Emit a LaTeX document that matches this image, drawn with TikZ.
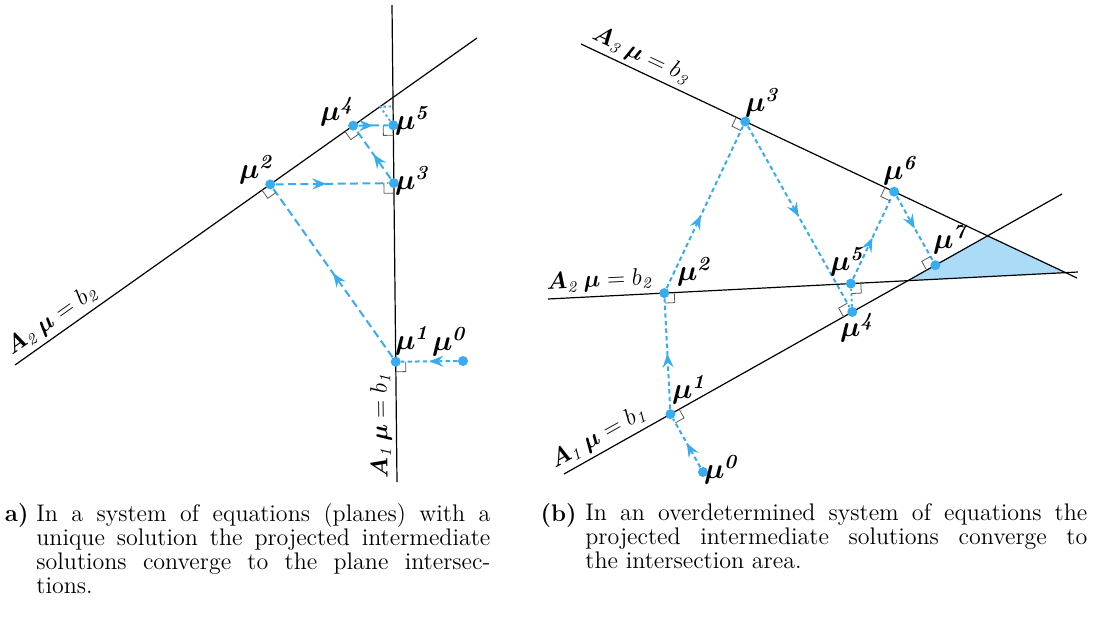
\documentclass[tikz,border=0pt]{standalone}
\usepackage{amsmath}
\usepackage{tikz}
\usetikzlibrary{arrows.meta, calc, decorations.markings, positioning}

\definecolor{iterblue}{RGB}{56,172,240}
\definecolor{areablue}{RGB}{172,219,248}

\tikzset{
  plane/.style={line width=0.6pt},
  dot/.style={circle, fill=iterblue, inner sep=0pt, minimum size=5pt},
  iter/.style={iterblue, line width=1pt, dash pattern=on 4pt off 2.2pt},
  iterfine/.style={iterblue, line width=1pt, dash pattern=on 2.2pt off 1.6pt},
  iterdots/.style={iterblue, line width=0.9pt, dash pattern=on 1.2pt off 1.4pt},
  midtip/.style={postaction={decorate}, decoration={markings,
      mark=at position #1 with {\arrow{Stealth[length=7pt,width=5.5pt,inset=2.5pt]}}}},
  midtip/.default=0.5,
  rmark/.style={gray!70!black, line width=0.4pt},
  mulab/.style={font=\Large\boldmath, inner sep=0pt},
  eqlab/.style={font=\large, inner sep=2pt},
  capbox/.style={font=\fontsize{12}{12}\selectfont, align=justify, inner sep=0pt, anchor=north west},
  captag/.style={font=\fontsize{12}{12}\selectfont\bfseries, inner sep=0pt, anchor=north east},
}

% right angle mark: foot, source, point on the plane
\newcommand{\ortho}[3]{%
  \path ($(#1)!5pt!(#2)$) coordinate (ra) ($(#1)!5pt!(#3)$) coordinate (rb);
  \draw[rmark] (ra) -- ($(ra)+(rb)-(#1)$) -- (rb);}

\begin{document}
\begin{tikzpicture}[x=0.5pt, y=-0.5pt]
\useasboundingbox (0,0) rectangle (1104,617);

% (a) two planes, unique solution
\begin{scope}
\coordinate (La) at (397,482);  % plane 1, lower end
\coordinate (Lb) at (392,5);
\coordinate (Lc) at (15,365);   % plane 2, lower end
\coordinate (Ld) at (477,38);
\draw[plane] (La) -- (Lb) node[eqlab, pos=0.12, sloped, allow upside down, above] (tA1) {$\boldsymbol{A}_{\mathit{1}}\,\boldsymbol{\mu} = b_{\mathit{1}}$};
\draw[plane] (Lc) -- (Ld) node[eqlab, pos=0.1, sloped, above] (tA2) {$\boldsymbol{A}_{\mathit{2}}\,\boldsymbol{\mu} = b_{\mathit{2}}$};

\node[dot] (m0) at (463,361) {};
\node[dot] (m1) at ($(La)!(m0)!(Lb)$) {};
\node[dot] (m2) at ($(Lc)!(m1)!(Ld)$) {};
\node[dot] (m3) at ($(La)!(m2)!(Lb)$) {};
\node[dot] (m4) at ($(Lc)!(m3)!(Ld)$) {};
\node[dot] (m5) at ($(La)!(m4)!(Lb)$) {};
\coordinate (m6) at ($(Lc)!(m5)!(Ld)$);
\coordinate (m7) at ($(La)!(m6)!(Lb)$);

\draw[iterfine, midtip] (m0) -- (m1);
\draw[iter, midtip] (m1) -- (m2);
\draw[iter, midtip=0.45] (m2) -- (m3);
\draw[iter, midtip] (m3) -- (m4);
\draw[iter, midtip] (m4) -- (m5);
\draw[iterdots] (m5) -- (m6) -- (m7);  % further steps

\ortho{m1}{m0}{La}
\ortho{m2}{m1}{Lc}
\ortho{m3}{m2}{La}
\ortho{m4}{m3}{Lc}
\ortho{m5}{m4}{La}

\node[mulab] (l0) at (450,342) {$\mu^{\mathit{0}}$};
\node[mulab] (l1) at (413,341) {$\mu^{\mathit{1}}$};
\node[mulab] (l2) at (257,170) {$\mu^{\mathit{2}}$};
\node[mulab] (l3) at (413,181) {$\mu^{\mathit{3}}$};
\node[mulab] (l4) at (338,112) {$\mu^{\mathit{4}}$};
\node[mulab] (l5) at (413,121) {$\mu^{\mathit{5}}$};

\node[captag] (tagA) at (29,503) {\strut a)};
\node[capbox, text width=227pt] (capA) at (36,503) {\strut In a system of equations (planes) with a\linebreak unique solution the projected intermediate\linebreak solutions converge to the plane intersec-\linebreak tions.};
\end{scope}

% (b) three planes, overdetermined
\begin{scope}
\coordinate (Ra) at (564,474);  % plane 1
\coordinate (Rb) at (1062,194);
\coordinate (Rc) at (548,299);  % plane 2
\coordinate (Rd) at (1078,272);
\coordinate (Re) at (581,44);   % plane 3
\coordinate (Rf) at (1077,278);
\fill[areablue] (intersection of Ra--Rb and Rc--Rd) -- (intersection of Ra--Rb and Re--Rf) -- (intersection of Rc--Rd and Re--Rf) -- cycle;
\draw[plane] (Ra) -- (Rb) node[eqlab, pos=0.085, sloped, above] (tB1) {$\boldsymbol{A}_{\mathit{1}}\,\boldsymbol{\mu} = b_{\mathit{1}}$};
\draw[plane] (Rc) -- (Rd) node[eqlab, pos=0.1, sloped, above] (tB2) {$\boldsymbol{A}_{\mathit{2}}\,\boldsymbol{\mu} = b_{\mathit{2}}$};
\draw[plane] (Re) -- (Rf) node[eqlab, pos=0.11, sloped, above] (tB3) {$\boldsymbol{A}_{\mathit{3}}\,\boldsymbol{\mu} = b_{\mathit{3}}$};

\node[dot] (n0) at (703,472) {};
\node[dot] (n1) at ($(Ra)!(n0)!(Rb)$) {};
\node[dot] (n2) at ($(Rc)!(n1)!(Rd)$) {};
\node[dot] (n3) at ($(Re)!(n2)!(Rf)$) {};
\node[dot] (n4) at ($(Ra)!(n3)!(Rb)$) {};
\node[dot] (n5) at ($(Rc)!(n4)!(Rd)$) {};
\node[dot] (n6) at ($(Re)!(n5)!(Rf)$) {};
\node[dot] (n7) at ($(Ra)!(n6)!(Rb)$) {};

\draw[iterfine, midtip] (n0) -- (n1);
\draw[iterfine, midtip] (n1) -- (n2);
\draw[iterfine, midtip=0.45] (n2) -- (n3);
\draw[iterfine, midtip] (n3) -- (n4);
\draw[iterdots] (n4) -- (n5);
\draw[iterfine, midtip] (n5) -- (n6);
\draw[iterfine, midtip] (n6) -- (n7);

\ortho{n1}{n0}{Rb}
\ortho{n2}{n1}{Rd}
\ortho{n3}{n2}{Re}
\ortho{n4}{n3}{Ra}
\ortho{n5}{n4}{Rd}
\ortho{n6}{n5}{Re}
\ortho{n7}{n6}{Ra}

\node[mulab] (r0) at (722,470) {$\mu^{\mathit{0}}$};
\node[mulab] (r1) at (690,390) {$\mu^{\mathit{1}}$};
\node[mulab] (r2) at (695,272) {$\mu^{\mathit{2}}$};
\node[mulab] (r3) at (763,103) {$\mu^{\mathit{3}}$};
\node[mulab] (r4) at (858,328) {$\mu^{\mathit{4}}$};
\node[mulab] (r5) at (848,262) {$\mu^{\mathit{5}}$};
\node[mulab] (r6) at (901,171) {$\mu^{\mathit{6}}$};
\node[mulab] (r7) at (951,240) {$\mu^{\mathit{7}}$};

\node[captag] (tagB) at (577,503) {\strut (b)};
\node[capbox, text width=251pt] (capB) at (585,503) {\strut In an overdetermined system of equations the\linebreak projected intermediate solutions converge to\linebreak the intersection area.};
\end{scope}
\end{tikzpicture}
\end{document}
